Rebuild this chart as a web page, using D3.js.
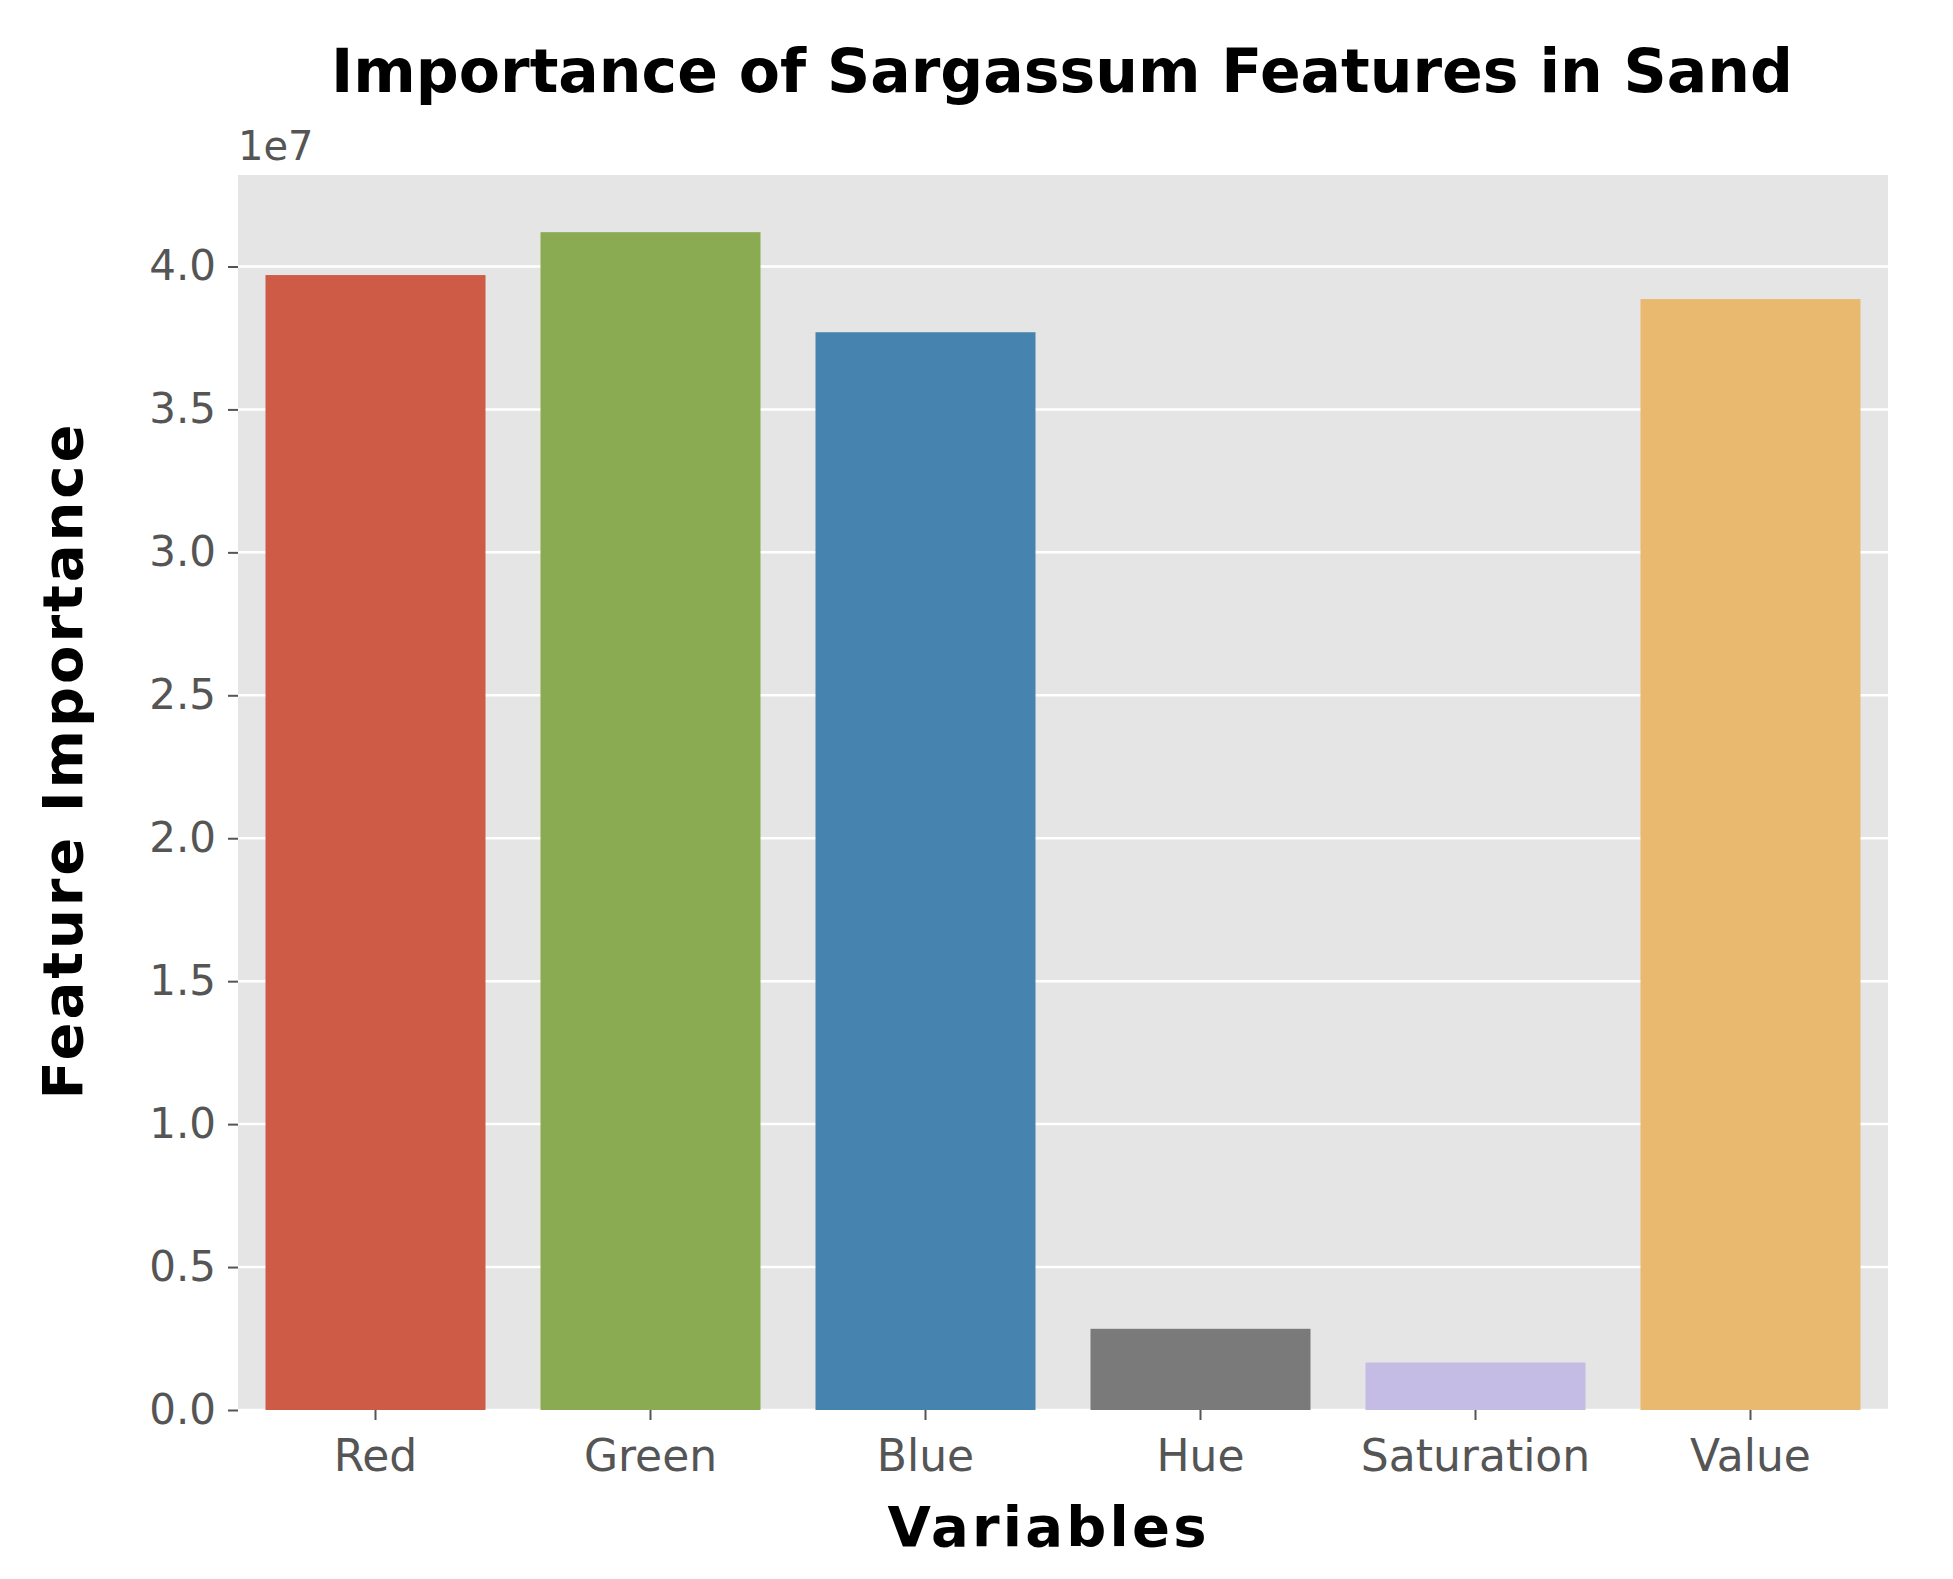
<!DOCTYPE html>
<html>
<head>
<meta charset="utf-8">
<script src="https://cdn.jsdelivr.net/npm/d3@7"></script>
<style>body{margin:0;background:#fff}</style>
</head>
<body>
<script>
const categories = ["Red", "Green", "Blue", "Hue", "Saturation", "Value"];
const values = [3.97e7, 4.12e7, 3.77e7, 0.284e7, 0.166e7, 3.886e7];
const colors = ["#cd5b45", "#8aab52", "#4683ae", "#7a7a7a", "#c4bce4", "#e8b96e"];
const yTicks = [0, 0.5e7, 1e7, 1.5e7, 2e7, 2.5e7, 3e7, 3.5e7, 4e7];

const width = 1953, height = 1579;
const m = {left: 238, right: 65, top: 175, bottom: 169};

const svg = d3.select("body").append("svg")
  .attr("width", width).attr("height", height)
  .style("font-family", "DejaVu Sans");

const x = d3.scaleBand().domain(categories)
  .range([m.left, width - m.right]).paddingInner(0.2).paddingOuter(0.1);
const y = d3.scaleLinear().domain([0, 4.32e7]).range([height - m.bottom, m.top]);

svg.append("rect")
  .attr("x", m.left).attr("y", m.top)
  .attr("width", width - m.left - m.right).attr("height", height - m.top - m.bottom)
  .attr("fill", "#e5e5e5");

svg.selectAll(".grid").data(yTicks).enter().append("line")
  .attr("x1", m.left).attr("x2", width - m.right)
  .attr("y1", d => y(d)).attr("y2", d => y(d))
  .attr("stroke", "#fff").attr("stroke-width", 2.5);

svg.selectAll(".bar").data(values).enter().append("rect")
  .attr("x", (d, i) => x(categories[i]))
  .attr("width", x.bandwidth())
  .attr("y", d => y(d))
  .attr("height", d => y(0) - y(d))
  .attr("fill", (d, i) => colors[i]);

const yAxis = svg.append("g").attr("transform", `translate(${m.left},0)`)
  .call(d3.axisLeft(y).tickValues(yTicks).tickSize(10).tickPadding(12)
    .tickFormat(d => (d / 1e7).toFixed(1)));
yAxis.select(".domain").remove();
yAxis.selectAll("line").attr("stroke", "#555").attr("stroke-width", 2);
yAxis.selectAll("text").attr("font-size", 42).attr("fill", "#555").attr("font-family", "DejaVu Sans");

const xAxis = svg.append("g").attr("transform", `translate(0,${height - m.bottom})`)
  .call(d3.axisBottom(x).tickSize(10).tickPadding(20));
xAxis.select(".domain").remove();
xAxis.selectAll("line").attr("stroke", "#555").attr("stroke-width", 2);
xAxis.selectAll("text").attr("font-size", 44).attr("fill", "#555").attr("font-family", "DejaVu Sans");

svg.append("text").attr("x", m.left).attr("y", 160)
  .attr("font-size", 40).attr("fill", "#555").text("1e7");

svg.append("text").attr("x", 1062).attr("y", 92)
  .attr("text-anchor", "middle").attr("font-size", 60).attr("font-weight", "bold")
  .attr("textLength", 1462).attr("lengthAdjust", "spacing")
  .text("Importance of Sargassum Features in Sand");

svg.append("text").attr("x", 1047).attr("y", 1546)
  .attr("text-anchor", "middle").attr("font-size", 56).attr("font-weight", "bold")
  .attr("textLength", 319).attr("lengthAdjust", "spacing")
  .text("Variables");

svg.append("text")
  .attr("transform", `translate(82,762) rotate(-90)`)
  .attr("text-anchor", "middle").attr("font-size", 56).attr("font-weight", "bold")
  .attr("textLength", 675).attr("lengthAdjust", "spacing")
  .text("Feature Importance");
</script>
</body>
</html>
